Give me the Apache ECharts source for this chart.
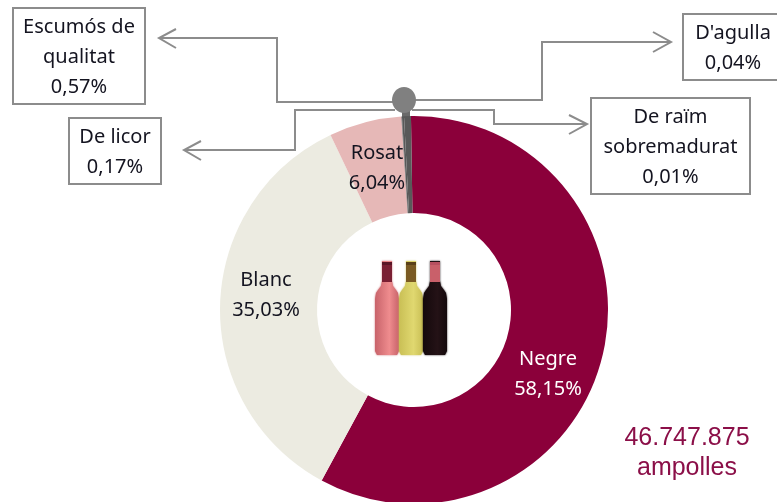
<!DOCTYPE html>
<html>
<head>
<meta charset="utf-8">
<style>
  html, body { margin: 0; padding: 0; background: #fff; }
  #chart { width: 777px; height: 502px; }
</style>
<script src="https://cdn.jsdelivr.net/npm/echarts@6/dist/echarts.min.js"></script>
</head>
<body>
<div id="chart"></div>
<script>
// tipus de vi i percentatges
const categories = ["Negre", "Blanc", "Rosat", "De raïm sobremadurat", "D'agulla", "De licor", "Escumós de qualitat"];
const values = [58.15, 35.03, 6.04, 0.01, 0.04, 0.17, 0.57];
const sliceColors = ["#8b003a", "#ecebe1", "#e6b8b7", "#595959", "#595959", "#595959", "#595959"];
const labelColors = ["#ffffff", "#141420", "#141420"];
const totalLines = ["46.747.875", "ampolles"];

const FONT = "'Noto Sans', sans-serif";
const FONT_SIZE = 20;
const GREY = "#8c8c8c";

function pct(v) {
  return v.toFixed(2).replace(".", ",") + "%";
}

// caixa amb text per als tipus petits
function box(x, y, w, h, lines) {
  return {
    type: "group",
    children: [
      { type: "rect", shape: { x: x, y: y, width: w, height: h }, style: { fill: "#fff", stroke: GREY, lineWidth: 2 } },
      {
        type: "text",
        x: x + w / 2,
        y: y + h / 2 + 1,
        style: { text: lines.join("\n"), font: FONT_SIZE + "px " + FONT, lineHeight: 30, fill: "#141420", align: "center", verticalAlign: "middle" }
      }
    ]
  };
}

function line(points) {
  return { type: "polyline", shape: { points: points }, style: { stroke: GREY, lineWidth: 2, fill: null } };
}

// silueta de l'ampolla
const bottleShape = [[-5, 0], [5, 0], [5, 20], [6, 25], [9, 29], [11, 32], [12, 38], [12, 90], [10, 94], [-10, 94], [-12, 90], [-12, 38], [-11, 32], [-9, 29], [-6, 25], [-5, 20]];

function bottle(x, body, neck, cap) {
  return {
    type: "group",
    x: x,
    y: 261,
    children: [
      {
        type: "polygon",
        shape: { points: bottleShape },
        style: {
          fill: {
            type: "linear", x: 0, y: 0, x2: 1, y2: 0,
            colorStops: [{ offset: 0, color: body[0] }, { offset: 0.6, color: body[1] }, { offset: 1, color: body[0] }]
          },
          shadowBlur: 2,
          shadowColor: body[0]
        }
      },
      { type: "rect", shape: { x: -5, y: 1, width: 10, height: 20 }, style: { fill: neck } },
      { type: "rect", shape: { x: -5, y: 1, width: 10, height: 3 }, style: { fill: cap } }
    ]
  };
}

const chart = echarts.init(document.getElementById("chart"), null, { renderer: "canvas" });

const labelSpots = [[548, 374], [266, 295], [377, 168]];

chart.setOption({
  animation: false,
  backgroundColor: "#fff",
  series: [{
    type: "pie",
    center: [414, 310],
    radius: [97, 194],
    startAngle: 90.9,
    clockwise: true,
    silent: true,
    labelLine: { show: false },
    data: categories.map(function (name, i) {
      return {
        name: name,
        value: values[i],
        itemStyle: { color: sliceColors[i] },
        label: i < 3 ? {
          show: true,
          position: "inside",
          formatter: name + "\n" + pct(values[i]),
          fontFamily: "Noto Sans",
          fontSize: FONT_SIZE,
          lineHeight: 30,
          color: labelColors[i]
        } : { show: false }
      };
    }),
    labelLayout: function (params) {
      const spot = labelSpots[params.dataIndex];
      if (!spot) return {};
      return { x: spot[0], y: spot[1], align: "center", verticalAlign: "middle" };
    }
  }],
  graphic: [
    line([[395, 102], [277, 102], [277, 38], [159, 38]]),
    line([[176, 29], [159, 38], [176, 48]]),
    line([[395, 110], [295, 110], [295, 150], [184, 150]]),
    line([[201, 141], [184, 150], [201, 160]]),
    line([[412, 100], [542, 100], [542, 42], [671, 42]]),
    line([[653, 32], [671, 42], [653, 52]]),
    line([[412, 110], [494, 110], [494, 124], [587, 124]]),
    line([[569, 115], [587, 124], [569, 134]]),
    { type: "rect", shape: { x: 402, y: 108, width: 8, height: 10 }, style: { fill: "#6a6a6a" } },
    { type: "ellipse", shape: { cx: 404, cy: 100, rx: 12, ry: 13 }, style: { fill: "#808080" } },
    box(13, 8, 132, 96, ["Escumós de", "qualitat", pct(values[6])]),
    box(69, 118, 92, 66, ["De licor", pct(values[5])]),
    box(683, 14, 100, 66, ["D'agulla", pct(values[4])]),
    box(591, 98, 159, 96, ["De raïm", "sobremadurat", pct(values[3])]),
    bottle(387, ["#c8636a", "#ef8c8e"], "#7a1f33", "#5a1526"),
    bottle(411, ["#c9bf55", "#e0d870"], "#7a5a22", "#5a4018"),
    bottle(435, ["#14090c", "#241216"], "#c9606a", "#b85060"),
    {
      type: "text",
      x: 687,
      y: 453,
      style: {
        text: totalLines.join("\n"),
        font: "25px 'Liberation Sans', Arial, sans-serif",
        lineHeight: 30,
        fill: "#8b0f48",
        align: "center",
        verticalAlign: "middle"
      }
    }
  ]
});
</script>
</body>
</html>
